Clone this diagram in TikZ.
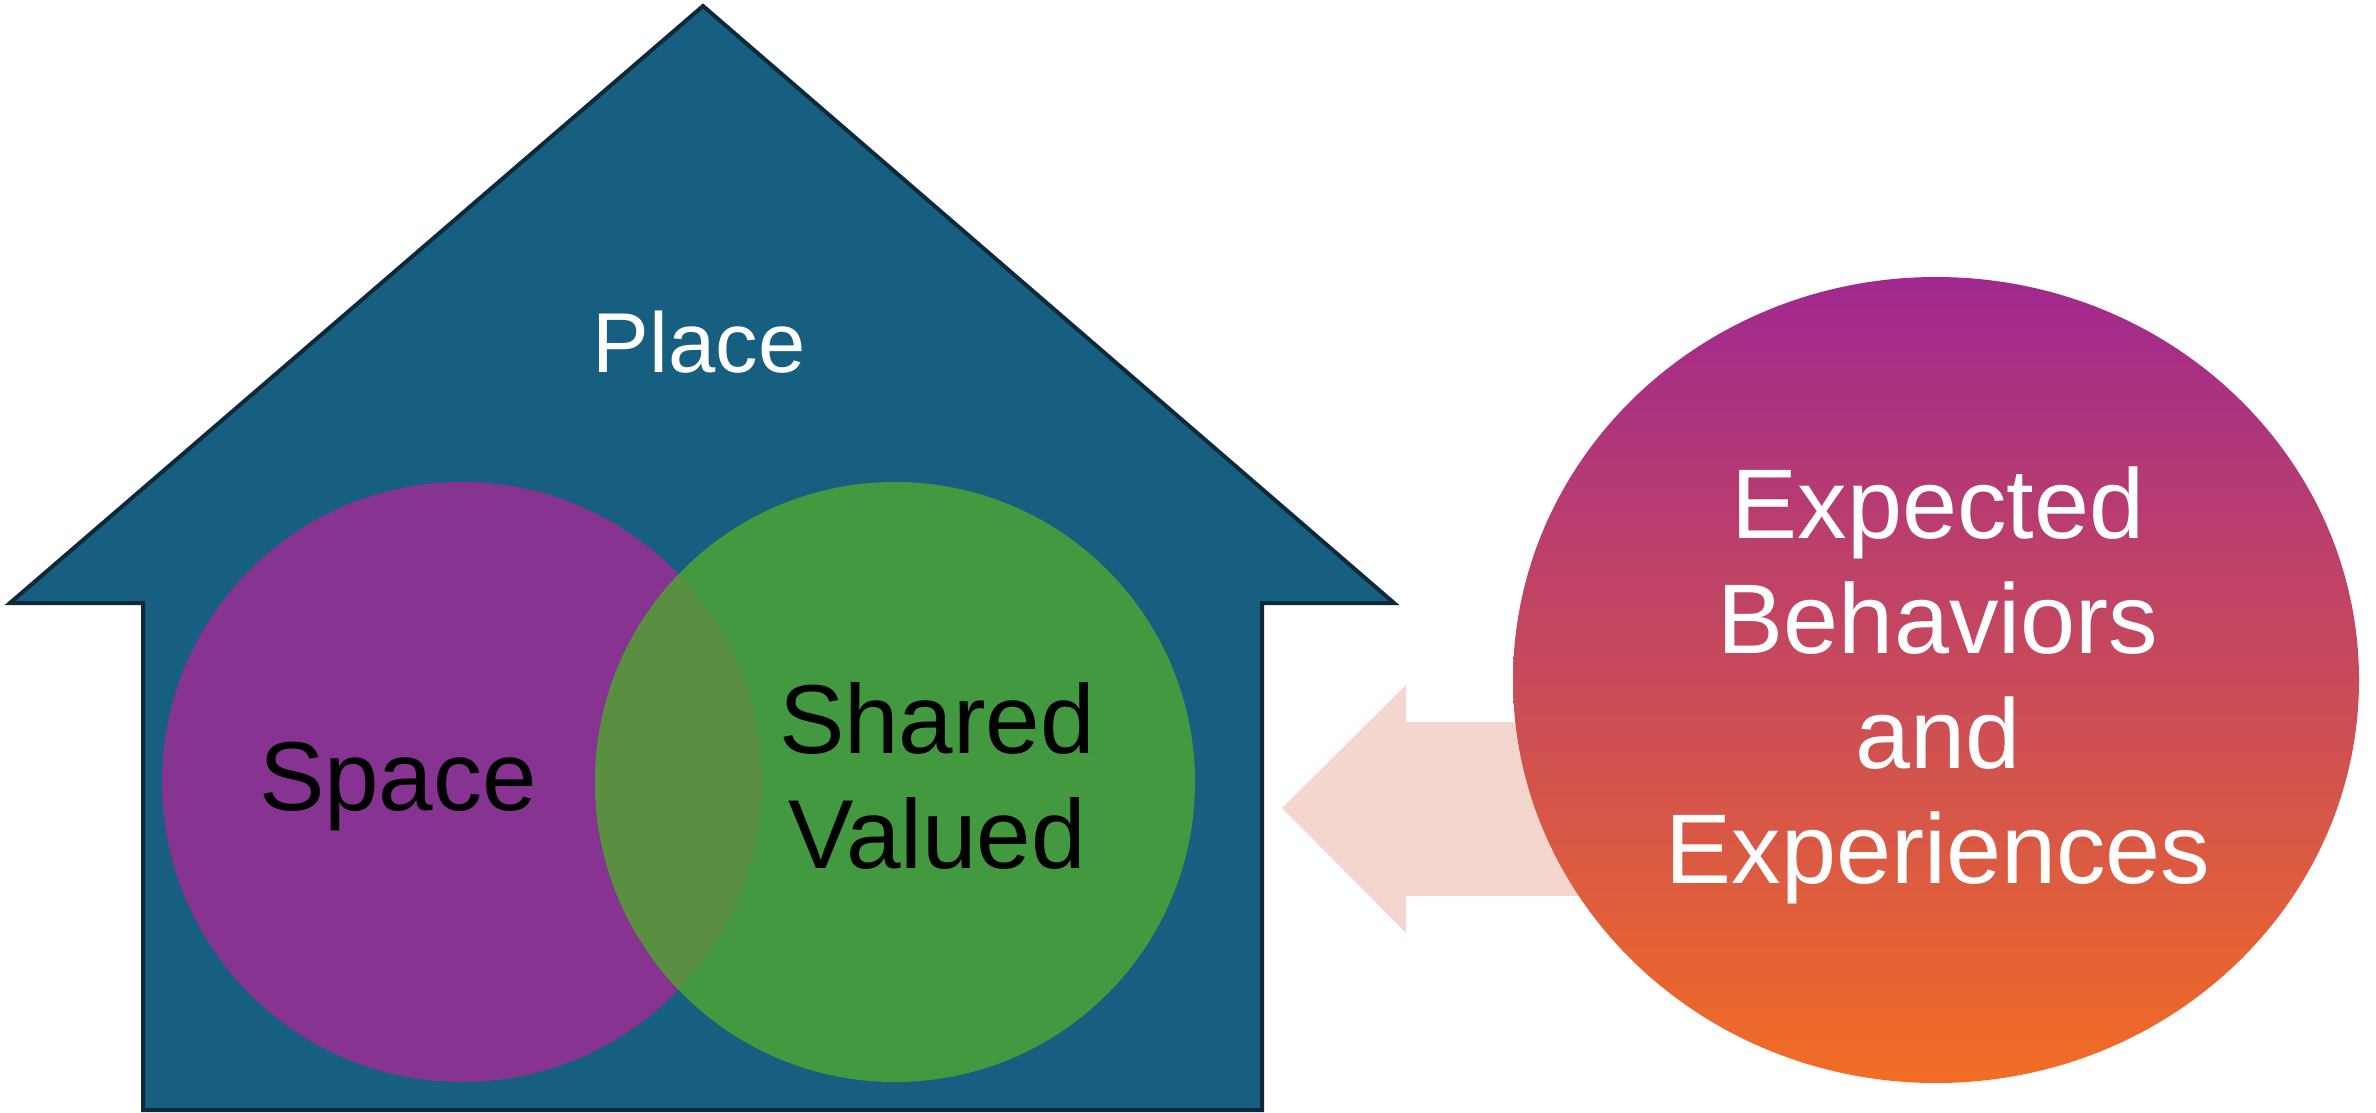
\documentclass[tikz,border=0pt]{standalone}
\usepackage{fontspec}
\setmainfont{Liberation Sans}
\definecolor{housefill}{HTML}{175F80}
\definecolor{houseline}{HTML}{0E2A3A}
\definecolor{spacepurple}{HTML}{863391}
\definecolor{sharedgreen}{HTML}{43993F}
\definecolor{overlapgreen}{HTML}{5A8F42}
\definecolor{arrowpink}{HTML}{F5D6CF}
\definecolor{ellipsetop}{HTML}{A0288F}
\definecolor{ellipsemid}{HTML}{D25A68}
\definecolor{ellipsebot}{HTML}{F26D24}
\tikzset{
  bigtext/.style={font=\fontsize{98}{115}\selectfont, align=center, inner sep=0pt},
  placetext/.style={font=\fontsize{85}{100}\selectfont, text=white, inner sep=0pt},
}
\begin{document}
\begin{tikzpicture}[x=1pt,y=-1pt]
\useasboundingbox (0,0) rectangle (2376,1113);
% house
\draw[fill=housefill, draw=houseline, line width=4pt]
  (703,6) -- (1394,603) -- (1262,603) -- (1262,1110) -- (143,1110) -- (143,603) -- (10,603) -- cycle;
% circles
\fill[spacepurple] (462,782) circle[radius=300];
\fill[sharedgreen] (895,782) circle[radius=300];
\begin{scope}
  \clip (462,782) circle[radius=300];
  \fill[overlapgreen] (895,782) circle[radius=300];
\end{scope}
% arrow
\fill[arrowpink] (1282,808) -- (1406,685) -- (1406,722) -- (1620,722) -- (1620,896) -- (1406,896) -- (1406,933) -- cycle;
% ellipse
\shade[top color=ellipsetop, middle color=ellipsemid, bottom color=ellipsebot]
  (1936,680) ellipse[x radius=423, y radius=403];
% texts
\node[placetext] (place) at (699,342.5) {Place};
\node[bigtext, text=black] (space) at (398,786) {Space};
\node[bigtext, text=black] (shared) at (937,775.5) {Shared\\Valued};
\node[bigtext, text=white, font=\fontsize{99}{115}\selectfont] (expected) at (1938,685) {Expected\\Behaviors\\and\\Experiences};
\end{tikzpicture}
\end{document}
